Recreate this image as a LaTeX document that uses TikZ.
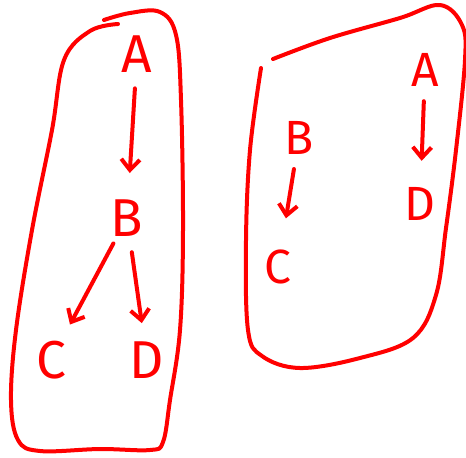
\documentclass[tikz,border=0pt]{standalone}
\usepackage{fontspec}
\setmainfont{Fira Sans}
\usetikzlibrary{arrows.meta}
\definecolor{ink}{RGB}{255,0,0}
\begin{document}
\begin{tikzpicture}[x=0.75pt,y=-0.75pt,
  pen/.style={draw=ink,line width=3pt,line cap=round,line join=round},
  letter/.style={text=ink,inner sep=0pt,outer sep=0pt,font=\fontsize{40}{44}\selectfont},
  smallletter/.style={letter,font=\fontsize{36}{40}\selectfont},
  arr/.style={pen,-{Straight Barb[length=8pt,width=14pt,line width=3pt]}}]
\useasboundingbox (0,0) rectangle (466,457);

% left group outline
\draw[pen] plot[smooth,tension=0.6] coordinates {(118,24) (90,31) (64,60) (52,130) (32,230) (16,330) (11,400) (18,440) (40,451) (100,449) (150,450) (163,442) (170,400) (180,330) (183,230) (181,100) (176,35) (160,12) (130,13) (104,20)};

% right group outline
\draw[pen] plot[smooth,tension=0.6] coordinates {(273,59) (330,38) (400,18) (440,5) (462,25) (465,60) (456,150) (446,228) (436,295) (413,338) (360,358) (300,368) (262,356) (248,330) (246,240) (250,150) (261,68)};

% left tree
\node[letter] (lA) at (137,54) {A};
\node[letter] (lB) at (127,218) {B};
\node[letter] (lC) at (51,360) {C};
\node[letter] (lD) at (147,360) {D};
\draw[arr,shorten <=12pt,shorten >=20pt] (lA) -- (lB);
\draw[arr,shorten <=6pt,shorten >=14pt] (lB) -- (lC);
\draw[arr,shorten <=12pt,shorten >=14pt] (lB) -- (lD);

% right forest
\node[smallletter] (rA) at (425,70) {A};
\node[smallletter] (rD) at (420,204) {D};
\node[smallletter] (rB) at (299,138) {B};
\node[smallletter] (rC) at (278,267) {C};
\draw[arr,shorten <=11pt,shorten >=20pt] (rA) -- (rD);
\draw[arr,shorten <=11pt,shorten >=24pt] (rB) -- (rC);
\end{tikzpicture}
\end{document}
